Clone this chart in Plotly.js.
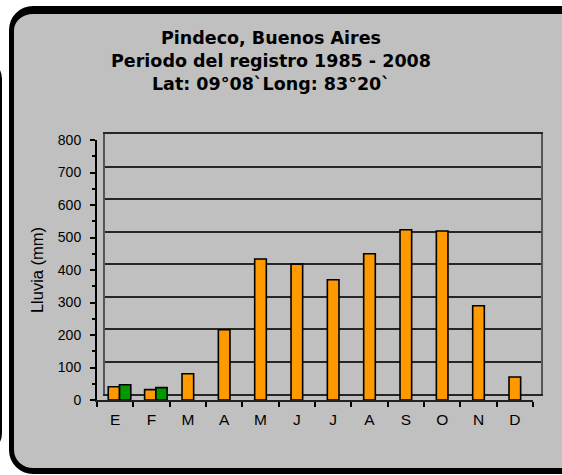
<!DOCTYPE html>
<html>
<head>
<meta charset="utf-8">
<script src="https://cdn.plot.ly/plotly-3.0.1.min.js"></script>
<style>
  html, body { margin:0; padding:0; }
  body { width:562px; height:475px; overflow:hidden; position:relative; background:#ffffff; }
  #leftframe { position:absolute; left:-40px; top:58px; width:38px; height:392px; border:2px solid #000; border-radius:22px; }
  #frame { position:absolute; left:9px; top:6px; width:600px; height:454px; border-style:solid; border-color:#000;
           border-width:8px 6px 6px 5px; border-radius:24px; background:#c0c0c0; }
  #chart { position:absolute; left:0; top:0; width:562px; height:475px; }
</style>
</head>
<body>
<div id="leftframe"></div>
<div id="frame"></div>
<div id="chart"></div>
<script>
// ---- data ----
const meses = ['E','F','M','A','M','J','J','A','S','O','N','D'];
const lluviaNaranja = [41, 32, 81, 216, 434, 418, 370, 450, 524, 520, 290, 71];
const lluviaVerde   = [47, 38, null, null, null, null, null, null, null, null, null, null];
const tituloLineas = ['Pindeco, Buenos Aires', 'Periodo del registro 1985 - 2008', 'Lat: 09°08`Long: 83°20`'];
const tituloY = 'Lluvia (mm)';

// ---- derived ----
const idx = meses.map((m, i) => i);
const fronteras = meses.concat(['']).map((m, i) => i - 0.5);
const conPar = lluviaVerde.map(v => v !== null);
const offN = conPar.map(p => p ? -0.19 : -0.16);
const widN = conPar.map(p => p ? 0.31 : 0.32);

// plot area: 97..541 px wide (444), 134..400 px tall (266)
const W = 444, H = 266;
const frontX = [0, 436 / W], frontY = [0, 260 / H];
const backX = [8 / W, 1], backY = [6 / H, 1];

const traces = [
  { type:'scatter', x:[], y:[], xaxis:'x', yaxis:'y', hoverinfo:'skip', showlegend:false },
  { type:'bar', x: idx, y: lluviaNaranja, xaxis:'x2', yaxis:'y2', offset: offN, width: widN,
    marker:{ color:'#FF9900', line:{ color:'#000000', width:1.6 } }, showlegend:false },
  { type:'bar', x: idx, y: lluviaVerde, xaxis:'x2', yaxis:'y2', offset: 0.12, width: 0.31,
    marker:{ color:'#009900', line:{ color:'#000000', width:1.6 } }, showlegend:false }
];

const layout = {
  width:562, height:475, autosize:false,
  margin:{ l:97, r:21, t:134, b:75, pad:0 },
  paper_bgcolor:'rgba(0,0,0,0)', plot_bgcolor:'rgba(0,0,0,0)',
  barmode:'overlay',
  font:{ family:'Liberation Sans, Arial, sans-serif', color:'#000' },
  title:{
    text: tituloLineas.map(t => '<b>' + t + '</b>').join('<br>'),
    font:{ family:'DejaVu Sans, Verdana, sans-serif', size:17.5, color:'#000' },
    x: 271 / 562, xanchor:'center', xref:'container',
    y: 1 - 44 / 475, yanchor:'top', yref:'container'
  },
  // back wall
  xaxis:{ domain: backX, range:[-0.5, 11.5], anchor:'y', showgrid:false, zeroline:false,
          showticklabels:false, ticks:'', showline:true, mirror:true, linecolor:'#262626', linewidth:2,
          fixedrange:true },
  yaxis:{ domain: backY, range:[0, 800], dtick:100, anchor:'x', showgrid:true, gridcolor:'#262626', gridwidth:2,
          zeroline:false, showticklabels:false, ticks:'', showline:true, mirror:true, linecolor:'#555555',
          linewidth:2, fixedrange:true },
  // front axes
  xaxis2:{ domain: frontX, range:[-0.5, 11.5], anchor:'y2', tickmode:'array', tickvals: idx, ticktext: meses,
           ticks:'', showgrid:false, zeroline:false, showline:true, linecolor:'#222', linewidth:2,
           tickfont:{ size:15.5, color:'#000' }, ticklabelstandoff:4,
           minor:{ tickmode:'array', tickvals: fronteras, ticks:'outside', ticklen:5, tickwidth:2, tickcolor:'#000', showgrid:false },
           fixedrange:true },
  yaxis2:{ domain: frontY, range:[0, 800], dtick:100, anchor:'x2', showgrid:false, zeroline:false,
           showline:true, linecolor:'#000', linewidth:2, ticks:'outside', ticklen:5, tickwidth:2, tickcolor:'#000',
           ticklabelstandoff:6,
           minor:{ dtick:50, ticks:'outside', ticklen:3, tickwidth:2, tickcolor:'#000', showgrid:false },
           tickfont:{ size:14, color:'#000' },
           title:{ text: tituloY, font:{ size:16.5, color:'#000' }, standoff:10 },
           fixedrange:true }
};

Plotly.newPlot('chart', traces, layout, { displayModeBar:false, staticPlot:true });
</script>
</body>
</html>
